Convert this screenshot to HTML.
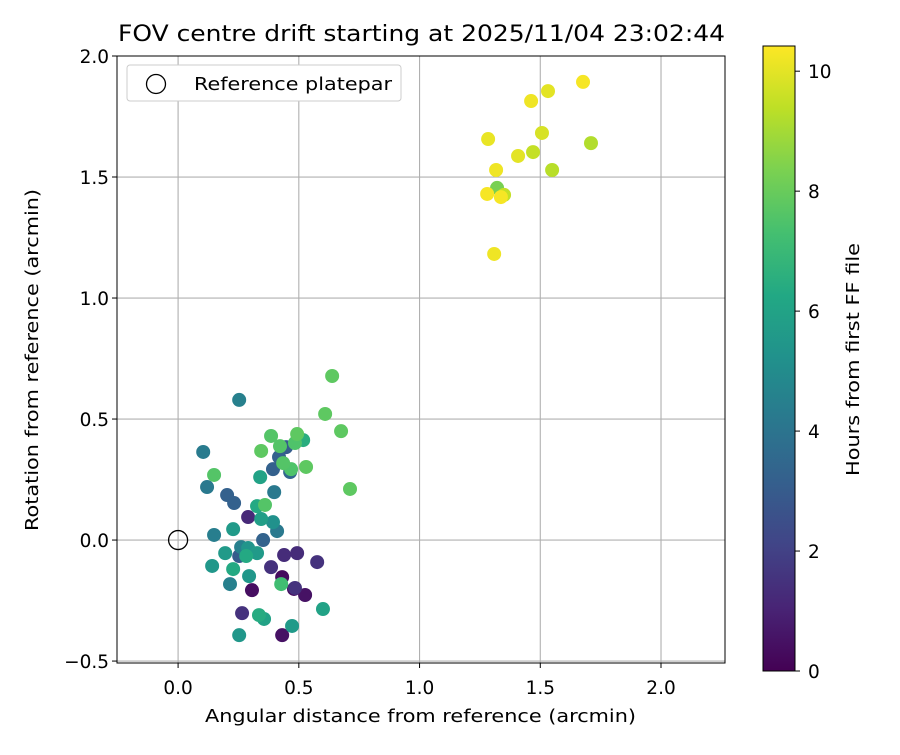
<!DOCTYPE html>
<html><head><meta charset="utf-8"><style>
body{margin:0;background:#fff;}
svg{font-family:"DejaVu Sans","Liberation Sans",sans-serif;}
</style></head><body>
<svg id="chart" width="900" height="750" xmlns="http://www.w3.org/2000/svg">
<defs>
<linearGradient id="vir" x1="0" y1="1" x2="0" y2="0">
<stop offset="0" stop-color="#440154"/><stop offset="0.1" stop-color="#482475"/><stop offset="0.2" stop-color="#414487"/><stop offset="0.3" stop-color="#355f8d"/><stop offset="0.4" stop-color="#2a788e"/><stop offset="0.5" stop-color="#21918c"/><stop offset="0.6" stop-color="#22a884"/><stop offset="0.7" stop-color="#44bf70"/><stop offset="0.8" stop-color="#7ad151"/><stop offset="0.9" stop-color="#bddf26"/><stop offset="1" stop-color="#fde725"/>
</linearGradient>
<clipPath id="clip"><rect x="117" y="56" width="608" height="607"/></clipPath>
</defs>
<g id="grid"></g>
<g id="points" clip-path="url(#clip)"></g>
<circle id="refm" r="9.5" fill="none" stroke="#000" stroke-width="1.3"/>
<rect x="117" y="56" width="608" height="607" fill="none" stroke="#000" stroke-width="1"/>
<g id="ticks"></g>
<text x="118" y="41" font-size="22.5" textLength="607" lengthAdjust="spacingAndGlyphs">FOV centre drift starting at 2025/11/04 23:02:44</text>
<text x="205" y="722" font-size="18" textLength="431" lengthAdjust="spacingAndGlyphs">Angular distance from reference (arcmin)</text>
<text transform="translate(38,531) rotate(-90)" font-size="18" textLength="342" lengthAdjust="spacingAndGlyphs">Rotation from reference (arcmin)</text>
<g>
<rect x="127" y="65" width="274" height="36" rx="3" fill="#fff" stroke="#ccc"/>
<circle cx="156" cy="84" r="9.5" fill="none" stroke="#000" stroke-width="1.3"/>
<text x="194" y="90" font-size="18" textLength="198" lengthAdjust="spacingAndGlyphs">Reference platepar</text>
</g>
<rect x="763" y="46" width="32" height="625" fill="url(#vir)" stroke="#000" stroke-width="1"/>
<g id="cbticks"></g>
<text transform="translate(859,476) rotate(-90)" font-size="18" textLength="233" lengthAdjust="spacingAndGlyphs">Hours from first FF file</text>
</svg>
<script>
const xs=[0.638,0.253,0.609,0.675,0.104,0.385,0.344,0.422,0.447,0.493,0.518,0.484,0.418,0.435,0.468,0.464,0.393,0.530,0.340,0.149,0.712,0.120,0.398,0.203,0.232,0.327,0.360,0.290,0.344,0.393,0.410,0.228,0.149,0.352,0.261,0.290,0.327,0.195,0.253,0.282,0.439,0.493,0.576,0.141,0.228,0.385,0.294,0.431,0.427,0.215,0.484,0.480,0.306,0.526,0.600,0.265,0.335,0.356,0.472,0.253,0.431,
1.677,1.532,1.462,1.710,1.507,1.470,1.284,1.408,1.317,1.549,1.321,1.350,1.337,1.280,1.309];
const ys=[0.678,0.579,0.521,0.450,0.364,0.430,0.368,0.388,0.384,0.438,0.413,0.401,0.343,0.318,0.293,0.281,0.293,0.302,0.260,0.269,0.211,0.219,0.198,0.186,0.153,0.140,0.145,0.095,0.087,0.074,0.037,0.045,0.021,0.0,-0.029,-0.033,-0.054,-0.054,-0.066,-0.066,-0.062,-0.054,-0.091,-0.107,-0.120,-0.112,-0.149,-0.153,-0.182,-0.182,-0.198,-0.202,-0.207,-0.227,-0.285,-0.302,-0.310,-0.326,-0.355,-0.393,-0.393,
1.893,1.855,1.814,1.640,1.682,1.603,1.657,1.587,1.529,1.529,1.455,1.426,1.417,1.430,1.182];
const hours=[7.8,4.5,7.8,7.8,4.3,7.6,7.8,7.6,3.0,7.8,6.5,7.5,3.2,7.6,7.5,3.4,3.2,7.8,6.0,7.6,7.8,4.2,4.2,3.2,3.2,6.3,7.6,1.2,5.8,5.2,4.2,5.6,4.4,3.3,4.5,5.4,5.6,5.6,3.0,6.3,1.3,1.3,1.5,5.5,6.3,1.5,5.5,0.3,7.2,4.5,1.5,0.4,0.4,0.5,6.0,1.5,6.4,6.0,5.6,5.5,0.5,
10.3,10.0,10.2,9.2,9.8,9.5,10.1,10.0,10.2,9.3,8.3,9.5,10.3,10.3,10.2];
const xTicks=[0.0,0.5,1.0,1.5,2.0];
const yTicks=[-0.5,0.0,0.5,1.0,1.5,2.0];
const cTicks=[0,2,4,6,8,10];
const xMin=-0.253,xMax=2.265,yMin=-0.508,yMax=2.0,cMax=10.42;
const L=117,R=725,T=56,B=663;
const sx=v=>L+(v-xMin)/(xMax-xMin)*(R-L);
const sy=v=>B-(v-yMin)/(yMax-yMin)*(B-T);
const sc=v=>671-v/cMax*625;
const vir=["#440154","#482475","#414487","#355f8d","#2a788e","#21918c","#22a884","#44bf70","#7ad151","#bddf26","#fde725"];
function hx(c){return [1,3,5].map(i=>parseInt(c.substr(i,2),16));}
function cmap(h){let t=Math.max(0,Math.min(1,h/cMax))*10;let i=Math.min(9,Math.floor(t));let f=t-i;let a=hx(vir[i]),b=hx(vir[i+1]);return "rgb("+a.map((v,k)=>Math.round(v+(b[k]-v)*f)).join(",")+")";}
const NS="http://www.w3.org/2000/svg";
function mk(tag,attrs,parent){const e=document.createElementNS(NS,tag);for(const k in attrs)e.setAttribute(k,attrs[k]);parent.appendChild(e);return e;}
const grid=document.getElementById('grid'),ticks=document.getElementById('ticks');
xTicks.forEach(v=>{const x=sx(v);
const g=mk('line',{x1:x,x2:x,y1:T,y2:B,stroke:'#b0b0b0','stroke-width':1.1},grid);


mk('line',{x1:x,x2:x,y1:B,y2:B+5,stroke:'#000'},ticks);
const t=mk('text',{x:x,y:694,'font-size':18.5,'text-anchor':'middle'},ticks);t.textContent=v.toFixed(1);

});
yTicks.forEach(v=>{const y=sy(v);
const g=mk('line',{x1:L,x2:R,y1:y,y2:y,stroke:'#b0b0b0','stroke-width':1.1},grid);


mk('line',{x1:L-5,x2:L,y1:y,y2:y,stroke:'#000'},ticks);
const t=mk('text',{x:L-8,y:y+7,'font-size':18.5,'text-anchor':'end'},ticks);t.textContent=(v<0?'\u2212'+Math.abs(v).toFixed(1):v.toFixed(1));

});
const cb=document.getElementById('cbticks');
cTicks.forEach(v=>{const y=sc(v);
mk('line',{x1:795,x2:800,y1:y,y2:y,stroke:'#000'},cb);
const t=mk('text',{x:808,y:y+7,'font-size':18.5},cb);t.textContent=v;

});
const pts=document.getElementById('points');
const idx=hours.map((h,i)=>i).sort((a,b)=>hours[a]-hours[b]);
idx.forEach(i=>{const c=mk('circle',{cx:sx(xs[i]),cy:sy(ys[i]),r:7,fill:cmap(hours[i])},pts);

});
const rm=document.getElementById('refm');rm.setAttribute('cx',sx(0));rm.setAttribute('cy',sy(0));
</script>
</body></html>
